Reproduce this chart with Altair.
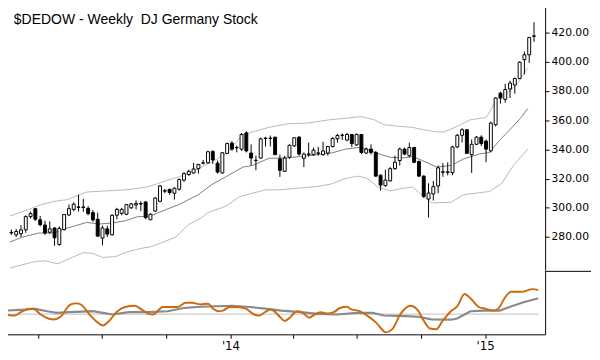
import altair as alt
import numpy as np
import pandas as pd

TITLE = "$DEDOW - Weekly \u00a0DJ Germany Stock"
FIRST_WEEK = "2013-02-14"

# ---------------- weekly candles (week 0 .. 109) ----------------
opens = [282.8, 281.5, 282.2, 284.9, 294.0, 299.4, 291.8, 288.2, 283.3, 286.2,
         274.9, 285.1, 295.1, 298.9, 300.6, 300.2, 299.6, 296.7, 292.2, 279.3,
         285.6, 281.5, 294.9, 296.2, 295.6, 300.0, 302.0, 302.9, 304.0, 291.8,
         297.8, 304.5, 311.4, 312.7, 310.0, 312.7, 319.0, 322.8, 323.9, 326.8,
         330.6, 330.8, 338.6, 330.6, 323.9, 337.3, 344.3, 341.1, 340.2, 351.3,
         337.5, 332.4, 334.1, 347.5, 347.7, 348.4, 333.5, 325.0, 334.6, 342.4,
         348.4, 333.9, 336.6, 336.4, 337.4, 336.4, 337.5, 342.0, 347.3, 349.6,
         346.4, 350.2, 343.1, 350.2, 337.5, 340.2, 337.9, 322.3, 315.2, 318.5,
         326.8, 332.4, 340.2, 335.7, 341.3, 331.7, 321.7, 306.0, 309.5, 315.0,
         324.3, 324.6, 324.1, 341.7, 349.7, 353.5, 336.4, 343.5, 348.4, 345.7,
         339.0, 356.9, 378.5, 374.3, 381.4, 384.1, 388.5, 401.5, 404.8, 417.7]
highs = [285.1, 285.6, 288.2, 294.9, 297.4, 299.8, 294.5, 291.1, 290.7, 286.7,
         287.3, 295.4, 302.3, 303.8, 309.0, 306.1, 301.2, 298.5, 296.7, 287.8,
         287.8, 295.6, 300.0, 300.0, 302.7, 303.4, 305.1, 304.5, 304.5, 296.2,
         307.4, 315.6, 312.9, 312.9, 314.1, 320.1, 324.5, 326.1, 330.8, 330.1,
         332.8, 339.0, 339.5, 332.3, 338.2, 344.6, 345.7, 342.8, 351.3, 352.4,
         343.5, 335.7, 348.0, 348.6, 349.5, 348.4, 336.4, 335.7, 343.5, 348.4,
         349.1, 337.9, 344.6, 341.3, 341.7, 345.3, 342.4, 348.4, 350.6, 350.9,
         351.3, 350.6, 350.9, 350.6, 341.3, 343.5, 339.0, 323.0, 326.1, 327.9,
         335.7, 341.3, 341.3, 344.6, 341.7, 332.4, 322.3, 316.8, 318.4, 329.0,
         330.6, 331.2, 342.4, 350.6, 354.6, 353.5, 346.8, 349.1, 349.7, 346.8,
         359.1, 375.8, 379.6, 384.8, 387.0, 389.2, 400.4, 407.1, 417.1, 427.1]
lows = [281.5, 280.0, 280.0, 282.9, 292.7, 291.1, 287.3, 281.5, 282.2, 274.0,
        274.0, 284.4, 294.5, 297.6, 297.5, 297.2, 294.9, 290.5, 280.6, 274.4,
        280.0, 281.1, 292.2, 294.9, 294.9, 299.3, 298.9, 297.8, 292.2, 291.8,
        297.1, 303.8, 310.0, 308.9, 305.6, 311.8, 317.9, 321.9, 323.4, 323.4,
        329.7, 330.1, 330.1, 323.4, 323.4, 336.8, 339.0, 338.0, 339.0, 337.9,
        329.0, 325.7, 333.5, 342.0, 342.0, 336.4, 321.2, 324.6, 333.5, 341.7,
        335.7, 327.9, 335.0, 335.7, 335.7, 335.7, 335.7, 341.3, 344.6, 346.4,
        345.7, 341.7, 342.4, 336.8, 336.8, 336.4, 321.2, 311.8, 314.5, 317.9,
        326.1, 329.0, 336.1, 334.6, 330.6, 321.2, 306.7, 293.3, 305.0, 310.0,
        321.2, 322.3, 322.3, 340.8, 344.6, 337.3, 323.9, 343.0, 342.4, 331.2,
        337.9, 355.8, 371.4, 372.0, 375.2, 378.1, 388.1, 391.4, 399.3, 413.7]
closes = [283.2, 283.8, 284.9, 294.0, 296.0, 292.2, 288.5, 282.7, 285.6, 279.5,
          286.0, 295.4, 299.4, 302.5, 300.3, 300.6, 296.0, 291.8, 280.6, 286.2,
          282.0, 294.9, 298.9, 298.9, 302.2, 302.7, 303.0, 302.6, 293.3, 295.6,
          306.7, 315.0, 311.8, 310.5, 313.4, 319.4, 323.4, 325.0, 326.6, 329.7,
          330.8, 338.4, 332.8, 324.5, 337.7, 344.0, 340.2, 341.3, 350.2, 339.0,
          334.1, 332.6, 347.3, 347.7, 347.5, 336.4, 325.7, 334.1, 342.8, 348.0,
          336.8, 336.8, 336.9, 339.5, 337.6, 339.0, 342.0, 347.5, 349.5, 349.8,
          350.2, 344.0, 350.2, 337.9, 340.2, 337.9, 321.7, 315.6, 319.0, 326.8,
          331.2, 340.2, 336.8, 341.3, 331.2, 321.7, 307.8, 310.1, 314.5, 327.4,
          324.7, 324.3, 341.7, 349.7, 353.5, 337.3, 343.5, 348.4, 344.0, 340.2,
          358.0, 375.2, 375.2, 381.0, 385.4, 388.5, 399.7, 404.8, 416.6, 417.5]

# ---------------- envelope bands (week, price) ----------------
upper_wk = [-0.3, 3.7, 6.3, 9.0, 11.7, 13.7, 15.7, 19.7, 23.7, 26.3, 28.3, 30.3,
            32.3, 35.0, 39.0, 41.7, 44.7, 48.3, 53.7, 57.7, 61.7, 66.3, 69.7,
            73.0, 75.7, 77.7, 81.0, 83.7, 85.7, 88.7, 90.3, 93.0, 95.7, 99.0,
            100.0, 101.0, 103.7, 105.7, 107.7]
upper_px = [294.4, 298.9, 302.3, 304.5, 305.6, 308.3, 310.8, 311.6, 312.3, 313.3,
            314.3, 316.3, 318.7, 321.2, 326.8, 331.2, 336.9, 350.2, 355.1, 357.6,
            358.0, 360.3, 361.3, 362.5, 360.3, 356.9, 355.8, 355.1, 353.6, 352.0,
            352.0, 355.8, 360.3, 361.8, 367.0, 373.8, 379.2, 385.9, 395.9]
mid_wk = [-0.3, 2.3, 5.7, 9.0, 11.0, 13.0, 15.7, 18.3, 21.0, 23.7, 26.3, 29.0,
          32.3, 35.0, 39.0, 41.7, 44.7, 48.3, 50.3, 53.7, 57.0, 60.3, 63.7, 66.7,
          69.7, 72.3, 74.3, 76.3, 79.0, 81.7, 83.7, 85.7, 88.7, 91.7, 94.3, 97.7,
          99.7, 101.7, 104.3, 106.3, 107.7]
mid_px = [276.6, 280.0, 282.7, 282.9, 285.6, 287.4, 290.0, 288.9, 289.6, 291.1,
          293.9, 294.4, 298.9, 302.3, 309.0, 315.7, 321.2, 327.9, 329.0, 333.9,
          334.2, 335.1, 336.4, 337.5, 340.2, 341.3, 340.2, 337.3, 334.6, 334.2,
          335.1, 332.4, 327.9, 329.0, 333.5, 336.9, 337.9, 345.8, 354.7, 361.8,
          368.0]
lower_wk = [-0.3, 2.3, 5.0, 7.0, 9.7, 12.3, 15.0, 17.0, 19.0, 21.7, 24.3, 27.0,
            29.0, 31.7, 34.3, 37.0, 39.7, 41.0, 44.7, 47.7, 53.0, 55.7, 59.7,
            63.7, 66.7, 69.7, 72.3, 74.3, 76.3, 79.0, 81.7, 83.7, 85.7, 87.7,
            91.7, 94.3, 99.7, 102.3, 104.7, 107.7]
lower_px = [258.8, 261.0, 263.3, 263.7, 261.7, 265.5, 269.3, 268.8, 266.0, 266.6,
            270.0, 272.2, 273.3, 276.6, 280.0, 288.6, 293.4, 296.7, 301.1, 307.8,
            312.3, 312.3, 313.4, 314.6, 316.3, 320.1, 321.7, 320.1, 314.5, 311.6,
            313.4, 314.1, 308.6, 303.4, 303.8, 309.0, 311.2, 316.8, 329.0, 340.2]

# ---------------- lower panel oscillator (week, value) ----------------
osc_wk = [-0.3, 1.7, 2.7, 4.7, 5.7, 7.0, 8.7, 9.7, 11.0, 12.3, 13.0, 14.3, 15.3,
          17.0, 18.7, 19.7, 21.0, 22.7, 24.3, 26.3, 27.7, 29.0, 30.0, 31.0, 32.0,
          35.0, 36.7, 38.0, 39.7, 41.3, 42.3, 43.3, 44.3, 45.7, 47.3, 49.0, 50.7,
          51.7, 53.0, 54.0, 55.0, 56.0, 57.0, 58.0, 59.0, 59.7, 60.7, 62.0, 63.0,
          64.3, 65.7, 67.0, 68.3, 69.7, 70.7, 72.0, 73.7, 75.7, 77.7, 79.0, 80.7,
          82.7, 84.3, 85.3, 86.7, 88.0, 89.3, 91.0, 92.3, 93.8, 95.0, 96.7, 98.0,
          99.7, 100.7, 102.0, 103.3, 105.7, 107.7, 108.9]
osc_val = [-0.4, -1.4, 1.3, 5.6, 5.0, -0.4, -4.7, -5.4, -3.0, 5.6, 9.6, 11.0, 9.6,
           -0.4, -8.7, -11.7, -7.0, 3.0, 7.3, 8.6, 4.6, 0.6, -0.4, 3.6, 7.3,
           7.3, 11.6, 11.6, 10.0, 10.6, 5.6, 3.0, 3.6, 7.3, 7.3, 5.6, -0.4,
           -1.4, 2.3, 4.6, 2.3, -3.0, -7.0, -3.7, 1.6, 3.0, 1.3, -3.7, -0.7,
           2.0, 0.6, 2.0, 6.3, 7.6, 4.6, 3.6, -1.0, -8.7, -18.7, -15.4, 0.3,
           8.6, 3.6, -5.4, -14.7, -15.4, -7.0, 3.0, 8.0, 20.6, 16.3, 7.3, 5.6,
           3.6, 5.6, 16.3, 23.0, 23.0, 25.6, 24.6]
sig_wk = [-0.3, 3.7, 5.7, 8.3, 10.3, 13.0, 17.7, 19.7, 21.7, 25.0, 29.0, 33.0,
          36.3, 39.7, 46.3, 49.7, 53.0, 56.3, 59.7, 63.7, 67.7, 71.7, 75.0, 77.3,
          81.7, 84.3, 87.0, 91.0, 92.3, 95.0, 97.7, 101.0, 103.0, 105.7, 108.9]
sig_val = [3.6, 4.6, 5.6, 3.0, 1.3, 2.0, 3.0, 1.3, -0.4, 2.0, 2.0, 3.0,
           6.3, 7.6, 8.6, 7.3, 5.6, 3.6, 2.3, 0.3, -0.4, 1.3, 1.3, -1.4,
           -2.0, -2.7, -5.4, -5.7, -4.4, 3.0, 3.6, 3.6, 7.3, 12.0, 16.3]

# ---------------- axes ----------------
price_ticks = [280, 300, 320, 340, 360, 380, 400, 420]
time_ticks = ["2013-04-01", "2013-07-01", "2013-10-01", "2014-01-01",
              "2014-04-01", "2014-07-01", "2014-10-01", "2015-01-01"]
x_range_wk = [-0.3, 110.3]
price_range = [257.5, 439.4]
osc_range = [-20.7, 44.3]

base = pd.Timestamp(FIRST_WEEK)


def to_date(weeks):
    return base + pd.to_timedelta(np.asarray(weeks, dtype=float) * 7.0, unit="D")


def dt(ts):
    ts = pd.Timestamp(ts)
    return alt.DateTime(year=ts.year, month=ts.month, date=ts.day,
                        hours=ts.hour, minutes=ts.minute)


candles = pd.DataFrame({
    "date": to_date(np.arange(len(opens))),
    "open": opens, "high": highs, "low": lows, "close": closes,
})
upper_df = pd.DataFrame({"date": to_date(upper_wk), "price": upper_px})
mid_df = pd.DataFrame({"date": to_date(mid_wk), "price": mid_px})
lower_df = pd.DataFrame({"date": to_date(lower_wk), "price": lower_px})
osc_df = pd.DataFrame({"date": to_date(osc_wk), "v": osc_val})
sig_df = pd.DataFrame({"date": to_date(sig_wk), "v": sig_val})
zero_df = pd.DataFrame({"date": to_date([x_range_wk[0]]),
                        "end": to_date([len(opens) - 1]), "v": [0.0]})

W = 553
xs = alt.Scale(domain=[dt(d) for d in to_date(x_range_wk)], nice=False)
ys = alt.Scale(domain=price_range, nice=False, zero=False)
yax = alt.Axis(orient="right", values=price_ticks, format=".2f", tickSize=4,
               tickColor="black", domainColor="black", labelColor="black",
               labelFont="DejaVu Sans", labelFontSize=11, labelPadding=2,
               grid=False, title=None)
X_top = alt.X("date:T", scale=xs, axis=None)


def band(df, color):
    return alt.Chart(df).mark_line(color=color, strokeWidth=1).encode(
        x=X_top, y=alt.Y("price:Q", scale=ys, axis=yax))


wicks = alt.Chart(candles).mark_rule(color="black", strokeWidth=1).encode(
    x=X_top, y=alt.Y("low:Q", scale=ys, axis=yax), y2="high:Q")
bodies = alt.Chart(candles).mark_bar(size=3, stroke="black", strokeWidth=1).encode(
    x=X_top, y=alt.Y("open:Q", scale=ys, axis=yax), y2="close:Q",
    fill=alt.when(alt.datum.close > alt.datum.open)
    .then(alt.value("white")).otherwise(alt.value("black")))
title = alt.Chart(pd.DataFrame({"t": [TITLE]})).mark_text(
    align="left", baseline="alphabetic", font="Liberation Sans",
    fontSize=14.3, color="black").encode(
    x=alt.value(9), y=alt.value(20), text="t:N")

top = alt.layer(
    band(upper_df, "#b8b8b8"), band(lower_df, "#b8b8b8"), band(mid_df, "#7c7c7c"),
    wicks, bodies, title,
).properties(width=W, height=272)

X_bot = alt.X("date:T", scale=xs, axis=alt.Axis(
    values=[dt(t) for t in time_ticks],
    labelExpr="month(datum.value) == 0 ? \"'\" + timeFormat(datum.value, '%y') : ''",
    tickSize=4, tickColor="black", domainColor="black", labelColor="black",
    labelFont="DejaVu Sans", labelFontSize=12, labelPadding=3, labelFlush=False,
    grid=False, title=None))
Y_osc = alt.Y("v:Q", scale=alt.Scale(domain=osc_range, nice=False, zero=False),
              axis=alt.Axis(orient="right", labels=False, ticks=False, grid=False,
                            title=None, domainColor="black"))

zero_line = alt.Chart(zero_df).mark_rule(color="#bdbdbd", strokeWidth=1).encode(
    x=X_bot, x2="end:T", y=Y_osc)
sig_line = alt.Chart(sig_df).mark_line(color="#8a8a8a", strokeWidth=2.2).encode(
    x=X_bot, y=Y_osc)
osc_line = alt.Chart(osc_df).mark_line(color="#cc6a12", strokeWidth=2,
                                       interpolate="monotone").encode(
    x=X_bot, y=Y_osc)
sep = alt.Chart(pd.DataFrame({"a": [0]})).mark_rule(color="black", strokeWidth=1).encode(
    x=alt.value(W), x2=alt.value(600), y=alt.value(0.5))

bottom = alt.layer(zero_line, sig_line, osc_line, sep).properties(width=W, height=65)

chart = alt.vconcat(top, bottom, spacing=0).properties(
    padding={"left": -8, "top": -8, "right": 0, "bottom": 0}
).configure_view(stroke=None)

chart.save("out.html", embed_options={"renderer": "svg", "actions": False})
